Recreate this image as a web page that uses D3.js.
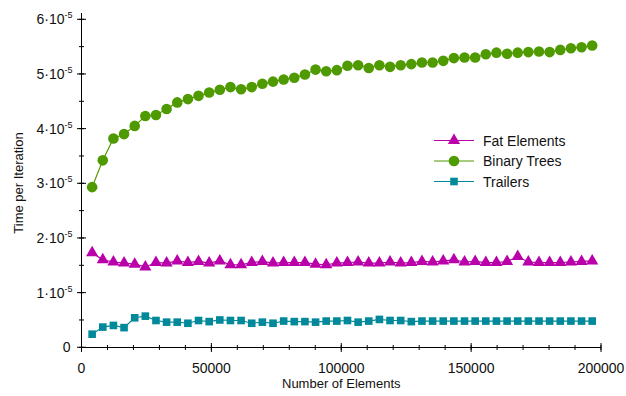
<!DOCTYPE html>
<html>
<head>
<meta charset="utf-8">
<script src="https://cdn.jsdelivr.net/npm/d3@7"></script>
<style>
  body { margin: 0; background: #fff; }
  text { font-family: "Liberation Sans", Arial, sans-serif; fill: #111; }
</style>
</head>
<body>
<script>
var width = 626,
	height = 396;

// x values: every 4096 elements
var elements = d3.range(1, 49).map(function(k) { return k * 4096; });

// time per iteration, units of 1e-5
var fatElements = [1.73,1.60,1.56,1.54,1.52,1.47,1.55,1.54,1.58,1.55,1.57,1.54,1.58,1.51,1.51,1.55,
	1.57,1.54,1.55,1.55,1.55,1.52,1.51,1.54,1.55,1.56,1.54,1.54,1.56,1.54,1.55,1.57,
	1.56,1.58,1.60,1.56,1.57,1.55,1.55,1.57,1.66,1.56,1.55,1.55,1.55,1.56,1.57,1.58];
var binaryTrees = [2.93,3.42,3.82,3.90,4.05,4.23,4.25,4.36,4.48,4.54,4.60,4.66,4.71,4.76,4.72,4.76,
	4.82,4.86,4.90,4.93,4.99,5.08,5.05,5.07,5.15,5.16,5.11,5.16,5.13,5.16,5.18,5.21,
	5.21,5.24,5.29,5.30,5.30,5.36,5.39,5.37,5.39,5.40,5.41,5.40,5.44,5.47,5.49,5.52];
var trailers = [0.24,0.37,0.40,0.36,0.54,0.57,0.49,0.46,0.46,0.44,0.49,0.47,0.50,0.49,0.49,0.44,
	0.46,0.44,0.48,0.47,0.47,0.46,0.48,0.48,0.49,0.46,0.48,0.51,0.49,0.49,0.47,0.48,
	0.48,0.48,0.48,0.48,0.48,0.48,0.48,0.48,0.48,0.48,0.48,0.48,0.48,0.48,0.48,0.48];

var xTicks = [0, 50000, 100000, 150000, 200000];
var yTicks = [0, 1, 2, 3, 4, 5, 6];

var series = [
	{name: "Fat Elements", values: fatElements, color: "#b900a9", symbol: d3.symbolTriangle, size: 64},
	{name: "Binary Trees", values: binaryTrees, color: "#4e9a00", symbol: d3.symbolCircle, size: 88},
	{name: "Trailers", values: trailers, color: "#00899a", symbol: d3.symbolSquare, size: 58}
];

var x = d3.scaleLinear().domain([0, 200000]).range([81.5, 601]),
	y = d3.scaleLinear().domain([0, 6]).range([347.3, 19.3]);

var svg = d3.select("body").append("svg")
	.attr("width", width)
	.attr("height", height);

// axes
var gx = svg.append("g").attr("transform", "translate(0,347.5)");
gx.append("line").attr("x1", x(0)).attr("x2", x(200000)).attr("stroke", "#000");
gx.selectAll(".minor").data(d3.range(0, 200001, 10000)).enter().append("line")
	.attr("x1", x).attr("x2", x).attr("y1", -2.5).attr("y2", 2.5).attr("stroke", "#000");
gx.selectAll(".major").data(xTicks).enter().append("line")
	.attr("x1", x).attr("x2", x).attr("y1", -4.5).attr("y2", 4.5).attr("stroke", "#000");
gx.selectAll(".lbl").data(xTicks).enter().append("text")
	.attr("x", x).attr("y", 25).attr("text-anchor", "middle")
	.style("font-size", "14px")
	.text(function(d) { return d; });

var gy = svg.append("g").attr("transform", "translate(81.5,0)");
gy.append("line").attr("y1", y(0)).attr("y2", 13).attr("stroke", "#000");
gy.selectAll(".minor").data(d3.range(0, 6.01, 0.5)).enter().append("line")
	.attr("y1", y).attr("y2", y).attr("x1", -2.5).attr("x2", 2.5).attr("stroke", "#000");
gy.selectAll(".major").data(yTicks).enter().append("line")
	.attr("y1", y).attr("y2", y).attr("x1", -4.5).attr("x2", 4.5).attr("stroke", "#000");
var yl = gy.selectAll(".lbl").data(yTicks).enter().append("text")
	.attr("y", function(d) { return y(d) + 5; })
	.attr("x", function(d) { return d === 0 ? -11 : -9; })
	.attr("text-anchor", "end")
	.style("font-size", "14px");
yl.each(function(d) {
	var t = d3.select(this);
	if (d === 0) { t.text("0"); return; }
	t.append("tspan").text(d + "\u00b710");
	t.append("tspan").attr("dy", -6).style("font-size", "9px").text("-5");
});

// axis titles
svg.append("text").attr("x", x(100000)).attr("y", 388).attr("text-anchor", "middle")
	.style("font-size", "13px").text("Number of Elements");
svg.append("text").attr("transform", "translate(23,183) rotate(-90)").attr("text-anchor", "middle")
	.style("font-size", "13px").text("Time per Iteration");

// series
var line = d3.line()
	.x(function(d, i) { return x(elements[i]); })
	.y(function(d) { return y(d); });

series.forEach(function(s) {
	var g = svg.append("g");
	g.append("path").attr("d", line(s.values)).attr("fill", "none")
		.attr("stroke", s.color).attr("stroke-width", 1.2);
	g.selectAll("path.pt").data(s.values).enter().append("path")
		.attr("class", "pt")
		.attr("transform", function(d, i) { return "translate(" + x(elements[i]) + "," + y(d) + ")"; })
		.attr("d", d3.symbol().type(s.symbol).size(s.size))
		.attr("fill", s.color);
});

// legend
var leg = svg.append("g").attr("transform", "translate(434,140.5)");
series.forEach(function(s, i) {
	var r = leg.append("g").attr("transform", "translate(0," + (i * 20.5) + ")");
	r.append("line").attr("x1", 0).attr("x2", 40).attr("stroke", s.color).attr("stroke-width", 1.2);
	r.append("path").attr("transform", "translate(20,0)")
		.attr("d", d3.symbol().type(s.symbol).size(s.size)).attr("fill", s.color);
	r.append("text").attr("x", 49).attr("y", 5).style("font-size", "14px").text(s.name);
});
</script>
</body>
</html>
